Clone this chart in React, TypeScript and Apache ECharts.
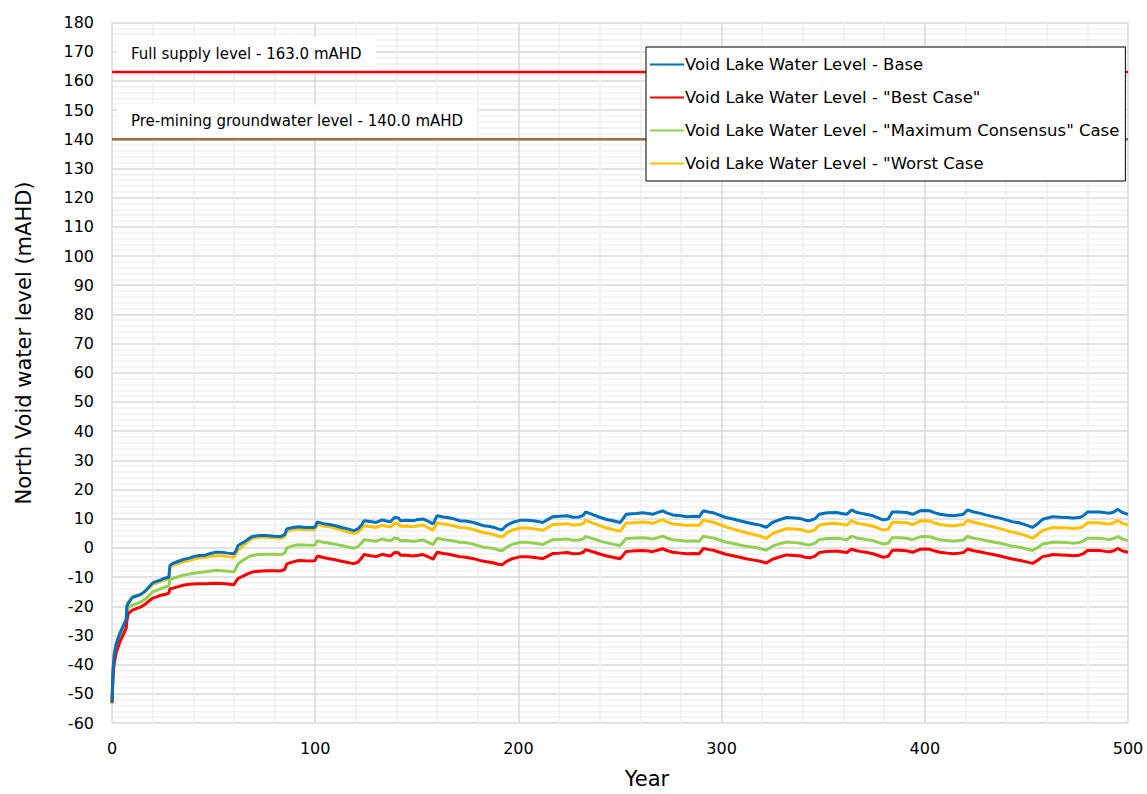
import React, { useEffect, useRef } from "react";
import * as echarts from "echarts";

const years = [0,0.5,1,2,4,6,7,7.3,8,10,12,14,16,18,20,22,24,26,28,28.5,30,33,35,38,40,43,46,48,51,54,57,60,61,62,65,67,69,72,76,80,83,85,86,89,92,95,99,100,101,104,107,110,113,116,119,121,123,124,127,130,133,135,137,139,141,142,145,148,150,153,156,158,160,163,165,168,171,174,178,181,183,186,188,190,192,194,197,201,204,207,210,212,214,217,220,224,227,230,232,233,235,237,240,243,247,250,251,253,256,258,261,264,266,268,271,273,276,280,283,286,289,291,294,296,299,302,305,309,312,316,319,322,325,328,332,336,339,341,343.5,346,348,352,356.6,359,361.6,364,366,368,371,374.5,377,379.5,382,384,387,391,394,397.6,400,402.5,405,407.5,411,414,417,419,421,424,427,430,433.6,437,440,443,447,450,453,455,458,461,463,467,470,473,476,478,480,483,486,489,491,493,495,497,500];

const baseCase = [-53,-42,-37,-33,-29,-26,-24.5,-20,-19,-17,-16.5,-16,-15,-13.5,-12,-11.5,-11,-10.4,-10,-6,-5.3,-4.5,-4,-3.5,-3,-2.6,-2.5,-2,-1.5,-1.5,-1.8,-2,-1,0.8,2,3,3.9,4.2,4.2,4,3.9,4.5,6.5,7,7.2,7,7,7.2,8.9,8.3,8,7.6,7,6.5,5.9,6.5,8,9.3,9,8.7,9.6,9.2,8.9,10.4,10.2,9.3,9.5,9.3,9.6,9.9,9,8.2,11,10.6,10.4,10,9.3,9.2,8.7,8,7.6,7.3,7,6.5,6.2,7.6,8.7,9.5,9.5,9.3,9,8.7,9.5,10.7,10.8,11,10.5,10.6,11.2,12.3,11.8,11.3,10.5,9.8,9.2,8.7,9.5,11.5,11.7,11.8,12,11.8,11.5,12,12.7,12,11.3,11,10.7,10.8,10.7,12.7,12.2,12,11.2,10.4,10,9.3,8.8,8.2,7.8,7,8.7,9.5,10.4,10.2,10,9.5,9.3,10,11.5,12,12.1,11.8,11.5,13,12.3,11.9,11.5,11,10.3,9.6,9.9,12.3,12.3,12.1,11.5,12.7,12.8,12.7,12,11.5,11.2,11,11.3,11.5,13,12.3,11.9,11.3,10.7,10.2,9.6,9,8.5,7.8,7,8,9.8,10.3,10.7,10.5,10.4,10.2,10.4,11,12.3,12.3,12.3,12,11.9,12.3,13.2,12.2,11.5];

const bestCase = [-53,-44,-40,-36,-32,-29,-27.5,-25,-22.5,-21.3,-20.8,-20.3,-19.5,-18.3,-17.2,-16.8,-16.2,-16,-15.5,-14,-13.8,-13.2,-12.8,-12.5,-12.4,-12.3,-12.3,-12.2,-12.1,-12.2,-12.4,-12.6,-11.5,-10.5,-9.5,-8.8,-8.3,-8,-7.8,-7.8,-7.9,-7.4,-5.5,-4.8,-4.3,-4.4,-4.5,-4.3,-2.8,-3.3,-3.7,-4.1,-4.6,-5,-5.4,-4.9,-3.3,-2.3,-2.7,-3,-2.2,-2.5,-2.8,-1.6,-1.7,-2.5,-2.5,-2.8,-2.6,-2.3,-3.2,-3.9,-1.5,-1.9,-2.1,-2.5,-3,-3.2,-3.7,-4.3,-4.6,-4.9,-5.2,-5.6,-5.8,-4.7,-3.7,-3,-3,-3.2,-3.5,-3.7,-3,-1.9,-1.8,-1.6,-2,-1.9,-1.5,-0.6,-1,-1.4,-2.1,-2.7,-3.3,-3.7,-3,-1.2,-1.1,-1,-0.9,-1.1,-1.3,-0.9,-0.3,-0.9,-1.5,-1.8,-2,-1.9,-2,-0.2,-0.6,-0.8,-1.5,-2.2,-2.6,-3.2,-3.7,-4.2,-4.6,-5.2,-3.9,-3.2,-2.4,-2.6,-2.8,-3.2,-3.4,-2.8,-1.6,-1.2,-1.1,-1.3,-1.6,-0.4,-0.9,-1.2,-1.5,-2,-2.6,-3.2,-2.9,-0.8,-0.8,-1,-1.5,-0.5,-0.4,-0.5,-1.1,-1.5,-1.8,-2,-1.8,-1.6,-0.4,-1,-1.3,-1.8,-2.3,-2.8,-3.3,-3.8,-4.3,-4.8,-5.3,-4.5,-3,-2.6,-2.3,-2.4,-2.5,-2.7,-2.5,-2,-0.9,-0.9,-0.9,-1.2,-1.3,-1,-0.2,-1,-1.5];

const maxConsensus = [-53,-43,-38,-34,-30,-27.5,-26,-22,-20.5,-19.6,-19.2,-18.6,-17.8,-16.5,-15,-14.6,-14,-13.5,-13,-10.8,-10.4,-9.8,-9.4,-9,-8.7,-8.4,-8.2,-8,-7.7,-7.8,-8,-8.2,-7,-5.5,-4,-3.2,-2.6,-2.3,-2.2,-2.2,-2.4,-1.8,0,0.7,1.1,1,0.9,1,2.5,1.9,1.6,1.2,0.8,0.3,-0.1,0.4,1.8,2.8,2.5,2.3,3.1,2.7,2.4,3.4,3.1,2.4,2.5,2.2,2.4,2.7,1.8,1.1,3.3,2.9,2.7,2.4,1.9,1.8,1.2,0.6,0.2,0,-0.3,-0.7,-1,0.2,1.2,1.9,1.9,1.7,1.4,1.1,1.9,2.8,2.9,3,2.6,2.7,3.1,3.9,3.5,3.1,2.4,1.8,1.2,0.8,1.5,3.2,3.3,3.4,3.5,3.3,3,3.4,4,3.4,2.8,2.5,2.3,2.4,2.3,4,3.6,3.4,2.7,2,1.6,1,0.6,0.2,-0.2,-0.8,0.6,1.3,2,1.8,1.6,1.2,1,1.6,2.8,3.2,3.3,3.1,2.8,4,3.5,3.2,2.9,2.5,1.9,1.3,1.6,3.5,3.5,3.3,2.8,3.8,3.9,3.8,3.2,2.8,2.5,2.3,2.5,2.7,3.9,3.3,3,2.5,2,1.6,1.1,0.6,0.2,-0.4,-0.9,-0.1,1.3,1.7,2,1.9,1.8,1.6,1.8,2.3,3.3,3.3,3.3,3,2.9,3.2,3.9,3.1,2.5];

const worstCase = [-53.5,-42,-37,-33,-29,-26,-24.5,-19.8,-18.5,-16.8,-16.3,-16,-15.2,-14,-12.5,-12,-11.5,-11,-10.5,-6.5,-6,-5.2,-4.8,-4.3,-3.8,-3.4,-3.2,-3,-2.7,-2.7,-3,-3.2,-2,-0.7,1,2.3,3.3,3.6,3.6,3.5,3.3,3.8,5.7,6.3,6.5,6.3,6.2,6.5,8.2,7.5,7.2,6.7,6.1,5.5,4.9,5.4,6.8,7.6,7.3,7,7.8,7.4,7.1,8.4,8.3,7.4,7.5,7.2,7.5,7.8,6.8,6,8.6,8.2,8,7.6,7,6.9,6.3,5.6,5.2,4.9,4.5,4,3.7,5,6.1,6.8,6.8,6.6,6.3,6,6.8,8,8.1,8.3,7.8,7.9,8.4,9.4,8.9,8.4,7.6,6.9,6.2,5.7,6.5,8.5,8.6,8.7,8.9,8.7,8.4,8.9,9.6,8.9,8.2,7.9,7.7,7.8,7.7,9.5,9,8.8,8,7.2,6.6,5.8,5.2,4.6,4,3.2,4.9,5.7,6.6,6.5,6.3,5.8,5.6,6.3,7.7,8.3,8.4,8.1,7.8,9.3,8.6,8.3,7.9,7.4,6.8,6.1,6.4,8.8,8.8,8.6,8,9.2,9.3,9.2,8.5,8,7.7,7.5,7.8,8,9.4,8.8,8.4,7.8,7.2,6.6,6,5.4,4.8,4.1,3.3,4.3,6,6.6,7,6.9,6.8,6.6,6.8,7.4,8.6,8.6,8.6,8.3,8.2,8.6,9.4,8.5,7.8];

const seriesNames = [
  "Void Lake Water Level - Base",
  'Void Lake Water Level - "Best Case"',
  'Void Lake Water Level - "Maximum Consensus" Case',
  'Void Lake Water Level - "Worst Case',
];
const seriesColors = ["#0070C0", "#FF0000", "#92D050", "#FFC000"];

const fullSupplyLevel = 163.0;
const preMiningLevel = 140.0;
const xRange = [0, 500];

const FONT = "DejaVu Sans";

export default function App() {
  const ref = useRef<HTMLDivElement>(null);
  useEffect(() => {
    const chart = echarts.init(ref.current!, null, { renderer: "svg" });
    const valueSets = [baseCase, bestCase, maxConsensus, worstCase];
    const mainSeries = seriesNames.map((name, i) => ({
      name,
      type: "line",
      data: years.map((y, k) => [y, valueSets[i][k]]),
      showSymbol: false,
      symbol: "none",
      lineStyle: { color: seriesColors[i], width: 3 },
      itemStyle: { color: seriesColors[i] },
      z: 5 - i,
    }));
    const refLine = (value: number, color: string, text: string) => ({
      name: text,
      type: "line",
      data: xRange.map((x) => [x, value]),
      showSymbol: false,
      symbol: "none",
      silent: true,
      lineStyle: { color, width: 2.5 },
      z: 3,
      markPoint: {
        symbol: "rect",
        symbolSize: 0,
        data: [{ coord: [xRange[0], value] }],
        label: {
          show: true,
          formatter: text,
          position: "insideTopLeft",
          offset: [0, -40],
          color: "#000",
          fontFamily: FONT,
          fontSize: 15,
          backgroundColor: "#ffffff",
          padding: [9, 14, 9, 14],
        },
      },
    });
    chart.setOption({
      animation: false,
      backgroundColor: "#ffffff",
      textStyle: { fontFamily: FONT },
      grid: { left: 112, right: 19, top: 22.5, bottom: 65.5 },
      legend: {
        data: seriesNames,
        orient: "vertical",
        left: 646,
        top: 47,
        backgroundColor: "#ffffff",
        borderColor: "#000",
        borderWidth: 1,
        borderRadius: 0,
        padding: [9, 6, 9, 4],
        itemGap: 16,
        itemWidth: 34,
        itemHeight: 17,
        icon: "path://M0,7.5 L34,7.5 L34,9.5 L0,9.5 Z",
        textStyle: { fontFamily: FONT, fontSize: 16.5, color: "#000", padding: [0, 0, 0, -4] },
      },
      graphic: [
        {
          type: "text",
          x: 24,
          y: 343,
          rotation: Math.PI / 2,
          style: {
            text: "North Void water level (mAHD)",
            font: `21px "${FONT}"`,
            fill: "#000",
            align: "center",
            verticalAlign: "middle",
          },
        },
      ],
      xAxis: {
        type: "value",
        min: 0,
        max: 500,
        interval: 100,
        name: "Year",
        nameLocation: "middle",
        nameGap: 45,
        nameTextStyle: { fontFamily: FONT, fontSize: 21, color: "#000", padding: [0, 0, 0, 54] },
        axisLine: { show: false },
        axisTick: { show: false },
        axisLabel: { fontFamily: FONT, fontSize: 16, color: "#000", margin: 17 },
        splitLine: { show: true, lineStyle: { color: "#d9d9d9", width: 1.5 } },
        minorTick: { show: false, splitNumber: 5 },
        minorSplitLine: { show: true, lineStyle: { color: "#eeeeee", width: 1.5 } },
      },
      yAxis: {
        type: "value",
        min: -60,
        max: 180,
        interval: 10,
        axisLine: { show: false },
        axisTick: { show: false },
        axisLabel: { fontFamily: FONT, fontSize: 16, color: "#000", margin: 18 },
        splitLine: { show: true, lineStyle: { color: "#d9d9d9", width: 1.5 } },
        minorTick: { show: false, splitNumber: 5 },
        minorSplitLine: { show: true, lineStyle: { color: "#f0f0f0", width: 1.5 } },
      },
      series: [
        refLine(fullSupplyLevel, "#FF0000", "Full supply level - 163.0 mAHD"),
        refLine(preMiningLevel, "#A0703C", "Pre-mining groundwater level - 140.0 mAHD"),
        ...mainSeries,
      ],
    });
    return () => chart.dispose();
  }, []);
  return (
    <div
      ref={ref}
      style={{ position: "absolute", left: 0, top: 0, width: 1147, height: 794 }}
    />
  );
}
